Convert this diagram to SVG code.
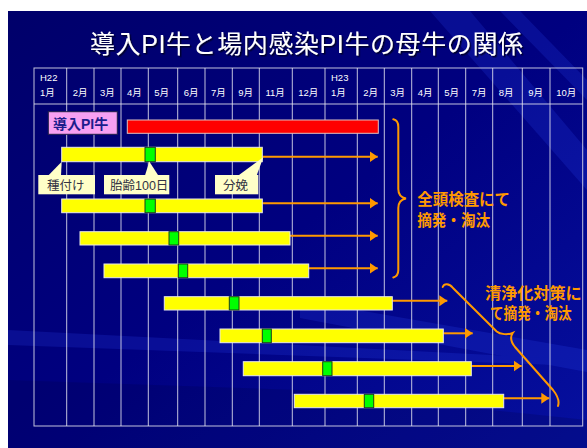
<svg xmlns="http://www.w3.org/2000/svg" width="587" height="448" viewBox="0 0 587 448">
<defs>
<linearGradient id="bg" x1="0" y1="0" x2="1" y2="1">
<stop offset="0" stop-color="#00006a"/>
<stop offset="0.5" stop-color="#000080"/>
<stop offset="1" stop-color="#0610a0"/>
</linearGradient>
<filter id="sh" x="-5%" y="-20%" width="110%" height="150%">
<feDropShadow dx="1.5" dy="1.5" stdDeviation="0.6" flood-color="#000020" flood-opacity="0.9"/>
</filter>
<marker id="ah" markerUnits="userSpaceOnUse" markerWidth="9" markerHeight="12" refX="8" refY="6" orient="auto">
<path d="M0,0.5 L8,6 L0,11.5 Z" fill="#ff9900"/>
</marker>
<style>
.grid{stroke:#e4e4f0;stroke-width:1;stroke-opacity:0.85;fill:none}
.hdr{font-family:"Liberation Sans","Noto Sans CJK JP",sans-serif;font-size:9.5px;fill:#ffffff}
.bar{fill:#ffff00;stroke:#e8e8e8;stroke-width:1}
.grn{fill:#00ff00;stroke:#1c3c1c;stroke-width:1}
.call{fill:#ffffc8}
.ctx{font-family:"Liberation Sans","Noto Sans CJK JP",sans-serif;font-size:12.5px;fill:#333344}
.org{font-family:"Liberation Sans","Noto Sans CJK JP",sans-serif;font-size:16px;font-weight:bold;fill:#ff9900}
.arr{stroke:#ff9900;stroke-width:2;fill:none;marker-end:url(#ah)}
.brace{stroke:#ff9900;stroke-width:2;fill:none;stroke-linecap:round}
</style>
</defs>
<rect x="0" y="0" width="587" height="448" fill="#ffffff"/>
<rect x="8" y="11" width="579" height="437" fill="url(#bg)"/>
<g opacity="0.18" fill="#3050ff">
<polygon points="430,11 470,11 587,150 587,190"/>
<polygon points="500,11 520,11 587,80 587,100"/>
<polygon points="300,300 587,350 587,372 300,318"/>
<polygon points="8,330 587,360 587,366 8,345"/>
</g>
<g opacity="0.2" fill="#000040">
<polygon points="8,380 300,390 587,420 587,448 8,448"/>
</g>
<g id="title" filter="url(#sh)">
<text x="90" y="53" font-family="Liberation Sans,'Noto Sans CJK JP',sans-serif" font-size="25" fill="#ffffff" textLength="433" lengthAdjust="spacing">導入PI牛と場内感染PI牛の母牛の関係</text>
</g>
<g id="table">
<rect class="grid" x="34" y="68" width="548.7" height="358" stroke-width="1.5"/>
<line class="grid" x1="34" y1="104" x2="582.7" y2="104"/>
<line class="grid" x1="66.7" y1="68" x2="66.7" y2="426"/>
<line class="grid" x1="94" y1="68" x2="94" y2="426"/>
<line class="grid" x1="121" y1="68" x2="121" y2="426"/>
<line class="grid" x1="148.3" y1="68" x2="148.3" y2="426"/>
<line class="grid" x1="177.7" y1="68" x2="177.7" y2="426"/>
<line class="grid" x1="205" y1="68" x2="205" y2="426"/>
<line class="grid" x1="232.3" y1="68" x2="232.3" y2="426"/>
<line class="grid" x1="259.3" y1="68" x2="259.3" y2="426"/>
<line class="grid" x1="292.3" y1="68" x2="292.3" y2="426"/>
<line class="grid" x1="325" y1="68" x2="325" y2="426"/>
<line class="grid" x1="357.3" y1="68" x2="357.3" y2="426"/>
<line class="grid" x1="384.3" y1="68" x2="384.3" y2="426"/>
<line class="grid" x1="411.7" y1="68" x2="411.7" y2="426"/>
<line class="grid" x1="438.3" y1="68" x2="438.3" y2="426"/>
<line class="grid" x1="465.7" y1="68" x2="465.7" y2="426"/>
<line class="grid" x1="492.7" y1="68" x2="492.7" y2="426"/>
<line class="grid" x1="522.3" y1="68" x2="522.3" y2="426"/>
<line class="grid" x1="550" y1="68" x2="550" y2="426"/>
<text class="hdr" x="40" y="81">H22</text>
<text class="hdr" x="331" y="81">H23</text>
<text class="hdr" x="40" y="96">1月</text>
<text class="hdr" x="72.7" y="96">2月</text>
<text class="hdr" x="100" y="96">3月</text>
<text class="hdr" x="127" y="96">4月</text>
<text class="hdr" x="154.3" y="96">5月</text>
<text class="hdr" x="183.7" y="96">6月</text>
<text class="hdr" x="211" y="96">7月</text>
<text class="hdr" x="238.3" y="96">9月</text>
<text class="hdr" x="265.5" y="96">11月</text>
<text class="hdr" x="298.3" y="96">12月</text>
<text class="hdr" x="331" y="96">1月</text>
<text class="hdr" x="363.3" y="96">2月</text>
<text class="hdr" x="390.3" y="96">3月</text>
<text class="hdr" x="417.7" y="96">4月</text>
<text class="hdr" x="444.3" y="96">5月</text>
<text class="hdr" x="471.7" y="96">7月</text>
<text class="hdr" x="498.7" y="96">8月</text>
<text class="hdr" x="528.3" y="96">9月</text>
<text class="hdr" x="556.3" y="96">10月</text>
</g>
<g id="connectors">
<line class="arr" x1="262.3" y1="156.7" x2="377.7" y2="156.7"/>
<line class="arr" x1="262.3" y1="203.3" x2="377.7" y2="203.3"/>
<line class="arr" x1="290" y1="235.7" x2="377.7" y2="235.7"/>
<line class="arr" x1="308.7" y1="268.3" x2="377.7" y2="268.3"/>
<line class="arr" x1="392.3" y1="300.7" x2="447.3" y2="300.7"/>
<line class="arr" x1="443.3" y1="333.3" x2="472.7" y2="333.3"/>
<line class="arr" x1="471.3" y1="366" x2="521.7" y2="366"/>
<line class="arr" x1="503.7" y1="398.3" x2="549.3" y2="398.3"/>
</g>
<g id="pi-intro">
<rect x="48.3" y="111.7" width="69" height="22.6" fill="#f7a0f2" stroke="#202048" stroke-width="1"/>
<text x="53" y="128.5" font-family="Liberation Sans,'Noto Sans CJK JP',sans-serif" font-size="14" font-weight="bold" fill="#1c1c8c">導入PI牛</text>
<rect x="127.3" y="120" width="251" height="13.3" fill="#ff0000" stroke="#e0c0c0" stroke-width="1"/>
</g>
<g id="cow1">
<rect class="bar" x="61.7" y="147.3" width="200.6" height="14.4"/>
<rect class="grn" x="145" y="147.3" width="10.3" height="14.4"/>
</g>
<g id="callout-tanetsuke">
<polygon class="call" points="48.3,175.5 61.7,161.7 61,175.5"/>
<rect class="call" x="38.3" y="175" width="56.7" height="19.3"/>
<text class="ctx" x="47" y="190">種付け</text>
</g>
<g id="callout-tairei">
<polygon class="call" points="145,175.5 149.3,161.5 158.3,175.5"/>
<rect class="call" x="104" y="175" width="65.3" height="19.3"/>
<text class="ctx" x="110" y="190">胎齢100日</text>
</g>
<g id="callout-bunben">
<polygon class="call" points="238.3,175.5 263.3,157.3 256.7,175.5"/>
<rect class="call" x="215" y="175" width="43.3" height="19.3"/>
<text class="ctx" x="223" y="190">分娩</text>
</g>
<g id="cow2">
<rect class="bar" x="61.7" y="199" width="200.6" height="13.7"/>
<rect class="grn" x="145" y="199" width="10.3" height="13.7"/>
</g>
<g id="cow3">
<rect class="bar" x="80" y="231.7" width="210" height="13.3"/>
<rect class="grn" x="169" y="231.7" width="9.7" height="13.3"/>
</g>
<g id="cow4">
<rect class="bar" x="104" y="264" width="204.7" height="13.7"/>
<rect class="grn" x="178.3" y="264" width="9.4" height="13.7"/>
</g>
<g id="cow5">
<rect class="bar" x="164.3" y="296.7" width="228" height="13.3"/>
<rect class="grn" x="229.3" y="296.7" width="9.7" height="13.3"/>
</g>
<g id="cow6">
<rect class="bar" x="220" y="329" width="223.3" height="13.7"/>
<rect class="grn" x="262.3" y="329" width="9" height="13.7"/>
</g>
<g id="cow7">
<rect class="bar" x="243.3" y="361.7" width="228" height="14"/>
<rect class="grn" x="322.7" y="361.7" width="9.3" height="14"/>
</g>
<g id="cow8">
<rect class="bar" x="294.3" y="394.3" width="209.4" height="13.4"/>
<rect class="grn" x="364.3" y="394.3" width="9.4" height="13.4"/>
</g>
<g id="brace-zentou">
<path class="brace" d="M393.3,119.3 C397,120 398.3,123 398.3,127 L398.3,189 C398.3,194 401,197.5 406,198.5 C401,199.5 398.3,203 398.3,208 L398.3,270 C398.3,274 397,276.5 393.3,277.5"/>
<text class="org" x="417.3" y="205" textLength="92.7" lengthAdjust="spacingAndGlyphs">全頭検査にて</text>
<text class="org" x="417.3" y="225.5" textLength="72.7" lengthAdjust="spacingAndGlyphs">摘発・淘汰</text>
</g>
<g id="brace-seijou">
<path class="brace" d="M442.7,287 C444,283.5 449,283 453,288 L496.7,331.5 C500,334.5 508,335 512.7,333 C510,337 511,342 515,347 L553,390 C557,395 560,400 558,406"/>
<text class="org" x="485" y="298.8" textLength="96.7" lengthAdjust="spacingAndGlyphs">清浄化対策に</text>
<text class="org" x="490" y="318.8" textLength="81.7" lengthAdjust="spacingAndGlyphs">て摘発・淘汰</text>
</g>
</svg>
